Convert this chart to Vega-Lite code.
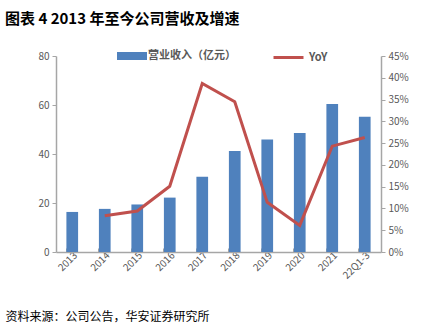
{
  "$schema": "https://vega.github.io/schema/vega-lite/v6.json",
  "width": 325,
  "height": 196,
  "autosize": {"type": "none"},
  "padding": {"left": 56, "top": 56, "right": 48, "bottom": 80},
  "background": "white",
  "config": {
    "view": {"stroke": null},
    "font": "Noto Sans CJK SC",
    "axis": {"labelColor": "#595959", "labelFontSize": 10, "domainColor": "#A6A6A6", "tickColor": "#A6A6A6", "domainWidth": 1.5, "grid": false}
  },
  "title": {
    "text": "图表 4 2013 年至今公司营收及增速",
    "anchor": "start",
    "frame": "group",
    "dx": -51,
    "offset": 14,
    "fontSize": 15,
    "fontWeight": "bold",
    "color": "#000000",
    "font": "Noto Sans CJK SC"
  },
  "data": {
    "values": [
      {"period": "2013", "revenue": 16.35, "yoy": null},
      {"period": "2014", "revenue": 17.6, "yoy": 0.083},
      {"period": "2015", "revenue": 19.4, "yoy": 0.094},
      {"period": "2016", "revenue": 22.2, "yoy": 0.151},
      {"period": "2017", "revenue": 30.7, "yoy": 0.387},
      {"period": "2018", "revenue": 41.2, "yoy": 0.345},
      {"period": "2019", "revenue": 45.9, "yoy": 0.114},
      {"period": "2020", "revenue": 48.6, "yoy": 0.061},
      {"period": "2021", "revenue": 60.4, "yoy": 0.243},
      {"period": "22Q1-3", "revenue": 55.2, "yoy": 0.263}
    ]
  },
  "encoding": {
    "x": {
      "field": "period",
      "type": "ordinal",
      "sort": null,
      "scale": {"paddingInner": 0.64, "paddingOuter": 0.32},
      "axis": {
        "labelAngle": -45,
        "labelAlign": "right",
        "labelBaseline": "top",
        "labelPadding": 2,
        "bandPosition": 0,
        "tickSize": -4,
        "title": "资料来源：公司公告，华安证券研究所",
        "titleAnchor": "start",
        "titleAlign": "left",
        "titleX": -51,
        "titleY": 68,
        "titleBaseline": "alphabetic",
        "titleFontSize": 12,
        "titleFontWeight": "normal",
        "titleColor": "#000000",
        "titleFont": "Noto Sans CJK SC"
      }
    }
  },
  "layer": [
    {
      "mark": {"type": "bar", "color": "#4F81BD"},
      "encoding": {
        "y": {
          "field": "revenue",
          "type": "quantitative",
          "scale": {"domain": [0, 80]},
          "axis": {"values": [0, 20, 40, 60, 80], "title": null, "tickSize": 4, "labelPadding": 3}
        },
        "color": {
          "datum": "营业收入（亿元）",
          "scale": {"range": ["#4F81BD"]},
          "legend": {
            "orient": "none",
            "legendX": 66,
            "legendY": -10,
            "title": null,
            "symbolType": "M-1.5,-0.4H1.5V0.4H-1.5Z",
            "symbolSize": 400,
            "symbolStrokeWidth": 0,
            "labelFontSize": 11,
            "labelColor": "#595959",
            "labelFontWeight": "bold",
            "labelOffset": 6
          }
        }
      }
    },
    {
      "transform": [{"filter": "datum.yoy != null"}],
      "mark": {"type": "line", "color": "#C0504D", "strokeWidth": 3},
      "encoding": {
        "y": {
          "field": "yoy",
          "type": "quantitative",
          "scale": {"domain": [0, 0.45]},
          "axis": {"orient": "right", "values": [0, 0.05, 0.1, 0.15, 0.2, 0.25, 0.3, 0.35, 0.4, 0.45], "format": ".0%", "title": null, "tickSize": 4, "labelPadding": 3}
        },
        "color": {
          "datum": "YoY",
          "scale": {"range": ["#C0504D"]},
          "legend": {
            "orient": "none",
            "legendX": 216,
            "legendY": -15,
            "title": null,
            "symbolType": "stroke",
            "symbolSize": 900,
            "symbolStrokeWidth": 3,
            "labelFontSize": 11,
            "labelColor": "#595959",
            "labelFontWeight": "bold",
            "labelOffset": 4
          }
        }
      }
    }
  ],
  "resolve": {"scale": {"y": "independent", "color": "independent"}}
}
